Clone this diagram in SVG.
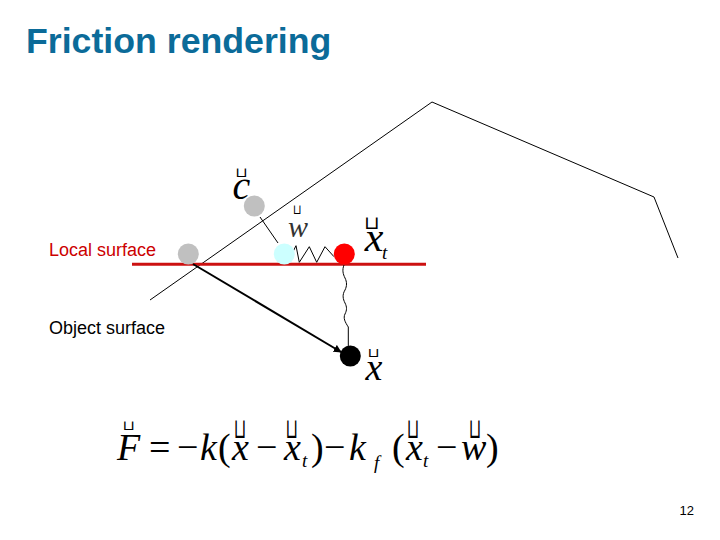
<svg xmlns="http://www.w3.org/2000/svg" width="720" height="540" viewBox="0 0 720 540">
<style>
.s{font-family:"Liberation Sans",Arial,sans-serif}
.m{font-family:"Liberation Serif","Times New Roman",serif;font-style:italic;fill:#000;font-size:38px}
.r{font-family:"Liberation Serif","Times New Roman",serif;fill:#000;font-size:38px}
.b{font-size:19px}
.u{font-family:"DejaVu Sans",sans-serif;fill:#000;font-size:16px;text-anchor:middle}
.t{fill:none;stroke:#000;stroke-width:1}
.l{font-size:18px}
</style>
<defs>
<marker id="ah" viewBox="0 0 10 10" refX="9" refY="5" markerWidth="4" markerHeight="4" orient="auto"><path d="M0 0L10 5L0 10Z" fill="#000"/></marker>
</defs>
<rect width="720" height="540" fill="#fff"/>
<text id="title" class="s" x="26" y="53" font-size="35.700" font-weight="bold" fill="#0b6b99">Friction rendering</text>
<g id="connectors">
<path class="t" d="M150 300L432 102L654 197L678 258"/>
<path d="M132 264.300H426" fill="none" stroke="#cc1111" stroke-width="3"/>
<path class="t" d="M260 217L278 243"/>
<path class="t" d="M291.700 254.300L296 245.700L299.300 262.300L309.300 246.700L316.700 262.300L325 246.700L334 256.700"/>
<path class="t" d="M344 265C342 270 343 274 345 278C347 282 347 286 345 290C342 295 343 299 345 303C347 307 347 310 345 314C343 318 345 322 348.300 327V347"/>
<path d="M193 264L341 352" fill="none" stroke="#000" stroke-width="2" marker-end="url(#ah)"/>
</g>
<g id="node-c"><circle cx="254.300" cy="206" r="10.500" fill="#c0c0c0"/>
<text class="u" transform="translate(241.800 176.700) scale(1 .85)">⊔</text>
<text class="m" x="241.500" y="199" style="font-size:40px" text-anchor="middle">c</text></g>
<g id="node-local"><circle cx="188.300" cy="254" r="10.500" fill="#c0c0c0"/></g>
<g id="node-w"><circle cx="284.300" cy="254" r="10.500" fill="#ccffff"/>
<text class="u" transform="translate(297.300 213.500) scale(.7 .85)">⊔</text>
<text class="m" x="298" y="237" style="font-size:30px;fill:#333" text-anchor="middle">w</text></g>
<g id="node-xt"><circle cx="344.300" cy="254" r="10.500" fill="#ff0000"/>
<text class="u" transform="translate(371.700 229) scale(1.250 1.150)">⊔</text>
<text class="m" x="374" y="251" style="font-size:42px" text-anchor="middle">x</text>
<text class="m b" x="382" y="259">t</text></g>
<g id="node-x"><circle cx="350.300" cy="356" r="10.500" fill="#000"/>
<text class="u" transform="translate(374 356.700) scale(1 .8)">⊔</text>
<text class="m" x="374" y="380" text-anchor="middle">x</text></g>
<text class="s l" x="49" y="256" fill="#cc0000">Local surface</text>
<text class="s l" x="49" y="334" fill="#000">Object surface</text>
<g id="formula">
<text class="u" transform="translate(129 430) scale(1 .85)">⊔</text>
<text class="u" transform="translate(240 438.300) scale(1 1.750)">⊔</text>
<text class="u" transform="translate(291.700 438.300) scale(1 1.750)">⊔</text>
<text class="u" transform="translate(413 438.300) scale(1 1.750)">⊔</text>
<text class="u" transform="translate(475 438.300) scale(1 1.750)">⊔</text>
<text class="m" x="117" y="460">F</text>
<text class="r" x="149" y="460">=</text>
<text class="r" x="177" y="460">−</text>
<text class="m" x="200" y="460">k</text>
<text class="r" x="218" y="460">(</text>
<text class="m" x="232" y="460">x</text>
<text class="r" x="256" y="460">−</text>
<text class="m" x="284" y="460">x</text>
<text class="m b" x="302" y="467">t</text>
<text class="r" x="311" y="460">)</text>
<text class="r" x="324" y="460">−</text>
<text class="m" x="349" y="460">k</text>
<text class="m b" x="374" y="469">f</text>
<text class="r" x="392" y="460">(</text>
<text class="m" x="406" y="460">x</text>
<text class="m b" x="423" y="467">t</text>
<text class="r" x="436" y="460">−</text>
<text class="m" x="461" y="460">w</text>
<text class="r" x="486" y="460">)</text>
</g>
<text class="s" x="694" y="515" font-size="13" text-anchor="end" fill="#000">12</text>
</svg>
